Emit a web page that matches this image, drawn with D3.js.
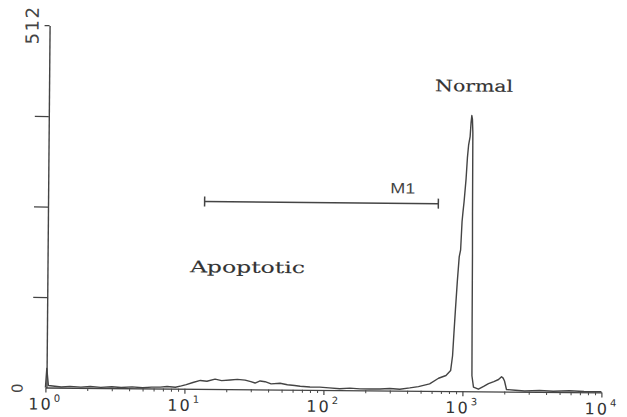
<!DOCTYPE html>
<html><head><meta charset="utf-8">
<script src="https://cdn.jsdelivr.net/npm/d3@7"></script>
<style>body{margin:0;background:#fff}svg{display:block}</style>
</head><body>
<svg id="c" width="627" height="417"></svg>
<script>
// ---- data ----
const fluorescence = [1.0, 1.02, 1.05, 1.3, 1.5, 1.8, 2.1, 2.5, 3.0, 3.5, 4.2, 5.0, 5.8, 6.7, 7.5, 8.6, 9.5,
  10.3, 11.5, 13, 14.5, 16.6, 18.5, 21.3, 24, 27.3, 30, 32.2, 35, 38, 42, 48.7, 55, 62, 68, 80, 94, 110, 131,
  155, 183, 215, 255, 300, 354, 418, 482, 580, 672, 760, 820, 845, 861, 880, 905, 930, 951, 970, 984, 1000,
  1030, 1050, 1069, 1095, 1110, 1123, 1135, 1145, 1152, 1158, 1163, 1168, 1200, 1303, 1420, 1538, 1680,
  1816, 1908, 1960, 2005, 2074, 2400, 2800, 3588, 4500, 5890, 7500, 10000];
const counts = [0, 27, 3, 1, 2, 1, 2, 1, 2, 1, 2, 1, 2, 2, 3, 2, 4,
  6, 9, 12, 11, 14, 12, 13, 14, 13, 11, 9, 12, 11, 8, 9, 7, 6, 5, 4, 4, 3, 2,
  3, 2, 2, 2, 3, 2, 4, 6, 10, 18, 22, 29, 50, 81, 115, 156, 190, 200, 240, 254, 268,
  300, 330, 348, 360, 380, 390, 385, 366, 250, 194, 90, 22, 6, 3, 7, 11, 14,
  17, 21, 19, 15, 3, 2, 1, 2, 1, 2, 1, 1];
const yTickValues = [0, 128, 256, 384, 512];
const yLabelValues = [0, 512];
const xDecades = [1, 10, 100, 1000, 10000];
const xExponents = ["0", "1", "2", "3", "4"];
const markerName = "M1";
const markerRange = [13.6, 653];
const markerLevel = 265;
const labelNormal = "Normal";
const labelApoptotic = "Apoptotic";

// ---- drawing ----
const svg = d3.select("#c");
const g = svg.append("g").attr("transform", "rotate(0.5,325,210)");
const ink = "#444";

const x = d3.scaleLog().domain([1, 10000]).range([47, 603]);
const y = d3.scaleLinear().domain([0, 512]).range([390, 28]);

// x axis
const minor = [];
for (let d = 1; d < 10000; d *= 10) for (let k = 2; k <= 9; k++) minor.push(d * k);
g.append("g").attr("transform", "translate(0,390)")
  .call(d3.axisBottom(x).tickValues(minor).tickSize(3).tickFormat(""))
  .call(a => a.select(".domain").remove())
  .selectAll("line").attr("stroke", ink).attr("stroke-width", 1);
g.append("g").attr("transform", "translate(0,390)")
  .call(d3.axisBottom(x).tickValues(xDecades).tickSize(5).tickSizeOuter(0).tickFormat(""))
  .call(a => a.select(".domain").attr("stroke", ink).attr("stroke-width", 1.4))
  .selectAll("line").attr("stroke", ink).attr("stroke-width", 1.2);

// x labels
const xl = g.append("g").attr("fill", "#333").attr("font-family", "DejaVu Sans, sans-serif");
xDecades.forEach((d, i) => {
  const last = i === xDecades.length - 1;
  const t = xl.append("text").attr("x", last ? 620 : x(d)).attr("y", 412)
    .attr("text-anchor", last ? "end" : "middle").attr("font-size", 16).attr("letter-spacing", 2);
  t.append("tspan").text("10");
  t.append("tspan").attr("font-size", 10).attr("dy", -8).attr("dx", 1).text(xExponents[i]);
});

// y axis
g.append("g").attr("transform", "translate(48,0)")
  .call(d3.axisLeft(y).tickValues(yTickValues.slice(1, 4)).tickSize(14).tickSizeOuter(0).tickFormat(""))
  .call(a => a.select(".domain").attr("stroke", ink).attr("stroke-width", 1.4))
  .selectAll("line").attr("stroke", ink).attr("stroke-width", 1.3);
g.append("line").attr("x1", 43).attr("x2", 48).attr("y1", y(512)).attr("y2", y(512))
  .attr("stroke", ink).attr("stroke-width", 1.3);

// y labels (rotated)
yLabelValues.forEach(v => {
  g.append("text")
    .attr("transform", `translate(${v === 0 ? 24 : 37},${v === 0 ? y(v) : y(v) + 19}) rotate(-90)`)
    .attr("text-anchor", v === 0 ? "middle" : "start")
    .attr("font-family", "DejaVu Sans, sans-serif")
    .attr("font-size", v === 0 ? 15 : 18).attr("fill", "#444").attr("letter-spacing", 1.5)
    .text(String(v));
});

// histogram
const line = d3.line().x((d, i) => x(fluorescence[i])).y(d => y(d));
g.append("path").datum(counts).attr("d", line)
  .attr("fill", "none").attr("stroke", ink).attr("stroke-width", 1.4).attr("stroke-linejoin", "round");

// marker M1
const my = y(markerLevel);
g.append("line").attr("x1", x(markerRange[0])).attr("x2", x(markerRange[1]))
  .attr("y1", my).attr("y2", my).attr("stroke", ink).attr("stroke-width", 1.5);
markerRange.forEach(v => g.append("line").attr("x1", x(v)).attr("x2", x(v))
  .attr("y1", my - 5).attr("y2", my + 5).attr("stroke", ink).attr("stroke-width", 1.5));
g.append("text").attr("x", x(294)).attr("y", y(279)).attr("font-family", "Liberation Sans, sans-serif")
  .attr("font-size", 15).attr("fill", "#444").attr("textLength", 25).attr("lengthAdjust", "spacingAndGlyphs")
  .text(markerName);

// annotations
g.append("text").attr("x", x(1161)).attr("y", y(424)).attr("text-anchor", "middle")
  .attr("font-family", "DejaVu Serif, serif").attr("font-size", 16).attr("fill", "#333")
  .attr("stroke", "#333").attr("stroke-width", 0.15)
  .attr("textLength", 78).attr("lengthAdjust", "spacingAndGlyphs").text(labelNormal);
g.append("text").attr("x", x(27.9)).attr("y", y(165)).attr("text-anchor", "middle")
  .attr("font-family", "DejaVu Serif, serif").attr("font-size", 16).attr("fill", "#333")
  .attr("stroke", "#333").attr("stroke-width", 0.15)
  .attr("textLength", 115).attr("lengthAdjust", "spacingAndGlyphs").text(labelApoptotic);
</script>
</body></html>
